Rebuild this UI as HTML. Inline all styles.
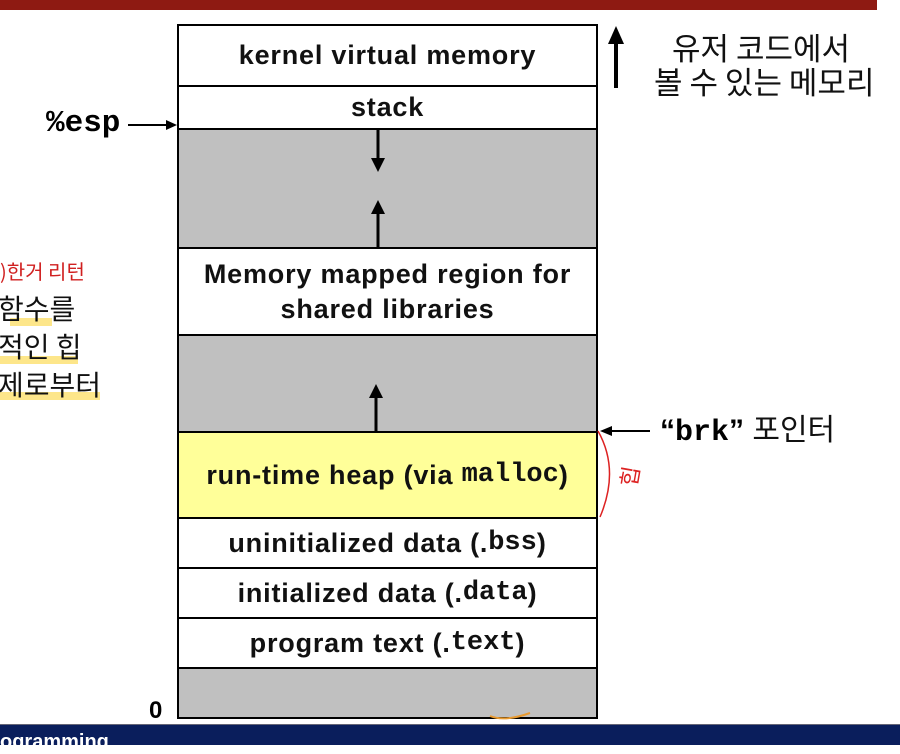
<!DOCTYPE html>
<html><head><meta charset="utf-8"><style>
body{margin:0;width:900px;height:744px;background:#fff;position:relative;overflow:hidden;font-family:"Liberation Sans","Noto Sans CJK KR",sans-serif}
.a{position:absolute}
.r{position:absolute;left:177px;width:421px;border:2px solid #000;box-sizing:border-box;display:flex;align-items:center;justify-content:center;font-weight:bold;font-size:27px;letter-spacing:0.8px;text-align:center;line-height:35px;color:#111}
.g{background:#c0c0c0}
.m{font-family:"Liberation Mono",monospace;font-weight:bold;letter-spacing:0}
.k{font-family:"Noto Sans CJK KR",sans-serif;font-size:31px;color:#111;white-space:nowrap}
</style></head><body>
<div class="a" style="left:0;top:0;width:877px;height:10px;background:#8e1a12"></div>
<div class="r" style="top:24px;height:63px">kernel virtual memory</div>
<div class="r" style="top:85px;height:45px">stack</div>
<div class="r g" style="top:128px;height:121px"></div>
<div class="r" style="top:247px;height:89px">Memory mapped region for<br>shared libraries</div>
<div class="r g" style="top:334px;height:99px"></div>
<div class="r" style="top:431px;height:88px;background:#ffff99">run-time heap (via&nbsp;<span class="m">malloc</span>)</div>
<div class="r" style="top:517px;height:52px">uninitialized data (.<span class="m">bss</span>)</div>
<div class="r" style="top:567px;height:52px">initialized data (.<span class="m">data</span>)</div>
<div class="r" style="top:617px;height:52px">program text (.<span class="m">text</span>)</div>
<div class="r g" style="top:667px;height:52px"></div>
<svg class="a" style="left:0;top:0" width="900" height="744">
<g stroke="#000" stroke-width="3" fill="#000">
<line x1="378" y1="130" x2="378" y2="160"/><polygon points="371,158 385,158 378,172" stroke="none"/>
<line x1="378" y1="247" x2="378" y2="212"/><polygon points="371,214 385,214 378,200" stroke="none"/>
<line x1="376" y1="431" x2="376" y2="396"/><polygon points="369,398 383,398 376,384" stroke="none"/>
<line x1="616" y1="88" x2="616" y2="42" stroke-width="4"/><polygon points="608,44 624,44 616,26" stroke="none"/>
<line x1="128" y1="125" x2="168" y2="125" stroke-width="2"/><polygon points="166,120 177,125 166,130" stroke="none"/>
<line x1="650" y1="431" x2="610" y2="431" stroke-width="2"/><polygon points="612,426 600,431 612,436" stroke="none"/>
</g>
<path d="M598 431 Q620 470 600 517" stroke="#d22" stroke-width="1.5" fill="none"/>
<path d="M490 716 Q505 722 530 713" stroke="#e89a30" stroke-width="2" fill="none"/>
<text x="618" y="486" fill="#d22" font-size="22" font-family="Noto Sans CJK KR" transform="rotate(-80 628 476)">힙</text>
</svg>
<div class="a m" style="left:46px;top:106px;font-size:31px">%esp</div>
<div class="a k" style="left:672px;top:24px">유저 코드에서</div>
<div class="a k" style="left:654px;top:58px">볼 수 있는 메모리</div>
<div class="a" style="left:660px;top:405px;font-size:30px;font-weight:bold;white-space:nowrap">“<span class="m">brk</span>” <span class="k" style="font-weight:normal;font-size:30px">포인터</span></div>
<div class="a" style="left:0;top:256px;color:#d02020;font-size:20px;font-family:'Noto Sans CJK KR'">)한거 리턴</div>
<div class="a" style="left:10px;top:318px;width:42px;height:8px;background:#fde68a"></div>
<div class="a" style="left:0;top:356px;width:78px;height:8px;background:#fde68a"></div>
<div class="a" style="left:0;top:392px;width:100px;height:8px;background:#fde68a"></div>
<div class="a k" style="left:-2px;top:288px;font-size:28px">함수를</div>
<div class="a k" style="left:-2px;top:326px;font-size:28px">적인 힙</div>
<div class="a k" style="left:-2px;top:364px;font-size:28px">제로부터</div>
<div class="a" style="left:149px;top:697px;font-size:24px;font-weight:bold">0</div>
<div class="a" style="left:0;top:724px;width:900px;height:20px;background:#0a1e5c;border-top:1px solid #667"></div>
<div class="a" style="left:0;top:731px;color:#fff;font-weight:bold;font-size:20px">ogramming</div>
</body></html>
